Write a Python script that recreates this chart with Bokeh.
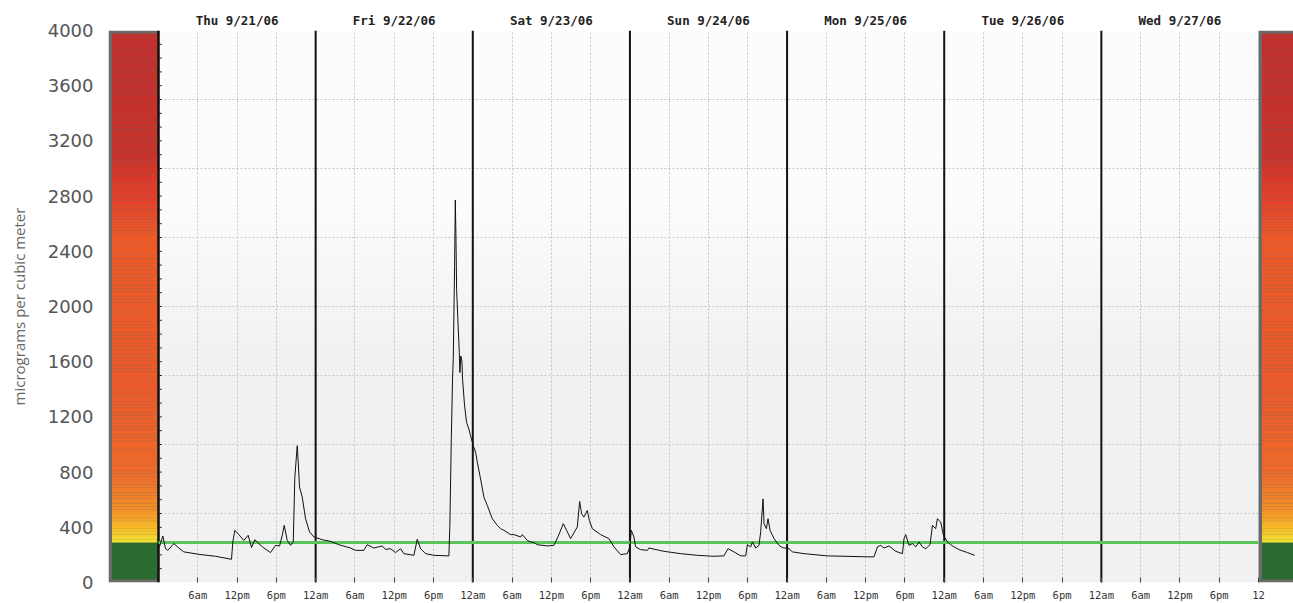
from bokeh.plotting import figure
from bokeh.models import Range1d, FixedTicker, LinearAxis
from bokeh.embed import file_html
from bokeh.resources import INLINE

# ---------------- data ----------------
# hours since Thu 9/21/06 12am
HOURS = [
    0.15, 0.66, 1.07, 1.42, 2.34, 3.10, 3.87, 6.16, 8.71, 11.15, 11.35, 11.66,
    12.27, 13.03, 13.70, 14.21, 14.71, 15.32, 16.09, 17.11, 17.87, 18.49, 18.90,
    19.20, 19.66, 20.17, 20.58, 20.82, 21.19, 21.34, 21.54, 21.95, 22.46, 23.07,
    23.73, 25.01, 26.28, 27.54, 29.33, 30.10, 31.36, 31.88, 32.89, 34.17, 34.68,
    35.44, 36.21, 36.97, 37.47, 39.00, 39.52, 40.03, 40.79, 42.06, 44.35, 44.50,
    44.72, 44.92, 45.02, 45.22, 45.33, 45.42, 45.53, 45.72, 45.94, 46.03, 46.18,
    46.34, 46.44, 46.75, 47.05, 47.40, 47.66, 48.08, 48.43, 48.69, 49.19, 49.70,
    50.22, 50.98, 51.74, 52.25, 52.76, 53.78, 54.28, 55.30, 55.56, 56.33, 56.83,
    57.34, 57.85, 59.38, 60.39, 61.00, 61.83, 62.33, 62.94, 63.96, 64.32, 64.62,
    64.97, 65.49, 65.80, 66.26, 67.52, 68.79, 69.56, 70.58, 71.60, 72.00, 72.21,
    72.61, 72.87, 73.63, 74.66, 74.90, 77.19, 79.75, 82.30, 84.83, 86.36, 86.97,
    87.89, 88.92, 89.68, 89.94, 90.45, 90.71, 91.21, 91.71, 91.97, 92.33, 92.48,
    92.84, 93.09, 93.40, 94.01, 94.77, 95.29, 96.29, 96.81, 98.58, 102.16,
    108.27, 109.28, 109.80, 110.30, 110.81, 111.57, 112.59, 113.62, 113.86,
    114.12, 114.62, 115.14, 115.65, 116.15, 116.67, 117.18, 117.83, 118.20,
    118.70, 118.96, 119.47, 119.88, 120.49, 120.99, 121.50, 122.27, 123.55,
    124.66,
]
# micrograms per cubic meter
CONC = [
    258, 337, 245, 233, 282, 250, 222, 204, 190, 168, 294, 378,
    347, 305, 342, 253, 310, 282, 250, 217, 269, 265, 342,
    414, 305, 269, 294, 763, 991, 871, 691, 619, 462, 366,
    330, 310, 298, 274, 250, 233, 233, 274, 250, 265, 240,
    245, 217, 245, 209, 197, 313, 245, 209, 197, 193, 414,
    1040, 1497, 1617, 2291, 2772, 2532, 2123, 1906, 1666, 1521, 1641,
    1605, 1473, 1280, 1160, 1112, 1064, 991, 944, 871, 751, 619,
    558, 462, 414, 390, 378, 347, 347, 330, 347, 305, 294,
    289, 274, 265, 269, 330, 426, 378, 318, 402, 587, 498,
    474, 522, 450, 390, 347, 318, 258, 202, 209, 258, 378,
    330, 258, 238, 233, 250, 226, 209, 197, 190, 193, 245,
    222, 193, 193, 274, 258, 294, 250, 269, 366, 606, 426,
    390, 462, 378, 318, 269, 253, 245, 222, 209, 193,
    186, 186, 258, 269, 250, 265, 226, 209, 318,
    347, 269, 282, 258, 294, 258, 245, 274, 414,
    390, 462, 438, 342, 294, 274, 258, 238, 217,
    197,
]
GOOD_LIMIT = 290

DAY_LABELS = ["Thu 9/21/06", "Fri 9/22/06", "Sat 9/23/06", "Sun 9/24/06",
              "Mon 9/25/06", "Tue 9/26/06", "Wed 9/27/06"]
HOUR_LABELS = ["6am", "12pm", "6pm", "12am"]
LAST_LABEL = "12"
Y_TICKS = list(range(0, 4001, 400))
Y_GRID = list(range(500, 4001, 500))
Y_MINOR = list(range(100, 4000, 100))
N_DAYS = 7

# color ramp of the side scale bars (value, color)
RAMP = [(GOOD_LIMIT, "#f0e232"), (380, "#f6c02a"), (520, "#f29028"),
        (800, "#ee6a2a"), (1400, "#ea5a2a"), (2500, "#ec5a28"),
        (2800, "#e2402a"), (3100, "#c8322c"), (4000, "#c0302c")]

# ---------------- geometry ----------------
W, H = 1293, 603
FRAME_LEFT, FRAME_TOP, FRAME_BOTTOM = 108, 30, 19
PX_PER_HOUR = (1258.0 - 158.0) / 168.0
X_START = -50.0 / PX_PER_HOUR
X_END = X_START + (W - FRAME_LEFT) / PX_PER_HOUR
Y_MAX = 4000
FRAME_H = H - FRAME_TOP - FRAME_BOTTOM
BH = 3.5 / PX_PER_HOUR            # bar border, horizontal (hours)
BV = 3.0 * Y_MAX / FRAME_H        # bar border, vertical (value units)
TOTAL_H = 24 * N_DAYS

p = figure(width=W, height=H, x_range=Range1d(X_START, X_END),
           y_range=Range1d(0, Y_MAX), output_backend="svg",
           toolbar_location=None, min_border_left=FRAME_LEFT, min_border_right=0,
           min_border_top=FRAME_TOP, min_border_bottom=FRAME_BOTTOM)
p.outline_line_color = None
p.background_fill_color = "#ffffff"
p.border_fill_color = "#ffffff"


def hex2rgb(h):
    return tuple(int(h[i:i + 2], 16) for i in (1, 3, 5))


def mix(c1, c2, t):
    a, b = hex2rgb(c1), hex2rgb(c2)
    return "#%02x%02x%02x" % tuple(int(round(a[i] + (b[i] - a[i]) * t)) for i in range(3))


# background shading (lower part light grey)
bg_b, bg_t, bg_c = [], [], []
for i in range(40):
    lo = i * 100.0
    hi = lo + 100.0
    mid = lo + 50
    if mid < 1700:
        c = "#f1f1f1"
    elif mid < 2700:
        c = mix("#f1f1f1", "#fcfcfc", (mid - 1700) / 1000.0)
    else:
        c = "#fcfcfc"
    bg_b.append(lo)
    bg_t.append(hi)
    bg_c.append(c)
bg = p.quad(left=0, right=TOTAL_H, bottom=bg_b, top=bg_t, fill_color=bg_c,
            line_color=None)
bg.level = "image"

# ---------------- axes ----------------
p.xaxis.ticker = FixedTicker(ticks=list(range(6, TOTAL_H + 1, 6)))
overrides = {}
for h in range(6, TOTAL_H + 1, 6):
    overrides[h] = HOUR_LABELS[(h // 6 - 1) % 4]
overrides[TOTAL_H] = LAST_LABEL
p.xaxis.major_label_overrides = overrides
p.xaxis.axis_line_color = None
p.xaxis.major_tick_in = 5
p.xaxis.major_tick_out = 0
p.xaxis.major_tick_line_color = "#444444"
p.xaxis.minor_tick_line_color = None
p.xaxis.major_label_standoff = 6
p.xaxis.major_label_text_font = "DejaVu Sans Mono"
p.xaxis.major_label_text_font_size = "10.5px"
p.xaxis.major_label_text_color = "#333333"

top = LinearAxis(ticker=FixedTicker(ticks=[12 + 24 * i for i in range(N_DAYS)]),
                 major_label_overrides={12 + 24 * i: DAY_LABELS[i] for i in range(N_DAYS)})
top.axis_line_color = None
top.major_tick_in = 0
top.major_tick_out = 0
top.minor_tick_line_color = None
top.major_label_standoff = 3
top.major_label_text_font = "DejaVu Sans Mono"
top.major_label_text_font_style = "bold"
top.major_label_text_font_size = "12.5px"
top.major_label_text_color = "#222222"
p.add_layout(top, "above")

p.yaxis.ticker = FixedTicker(ticks=Y_TICKS)
p.yaxis.axis_line_color = None
p.yaxis.major_tick_in = 0
p.yaxis.major_tick_out = 0
p.yaxis.minor_tick_line_color = None
p.yaxis.major_label_standoff = 15
p.yaxis.major_label_text_font = "DejaVu Sans"
p.yaxis.major_label_text_font_size = "18px"
p.yaxis.major_label_text_color = "#555555"
p.yaxis.axis_label = "micrograms per cubic meter"
p.yaxis.axis_label_text_font = "Open Sans"
p.yaxis.axis_label_text_font_style = "normal"
p.yaxis.axis_label_text_font_size = "15px"
p.yaxis.axis_label_text_color = "#666666"
p.yaxis.axis_label_standoff = 16

# grid
p.xgrid.ticker = FixedTicker(ticks=list(range(6, TOTAL_H, 6)))
p.ygrid.ticker = FixedTicker(ticks=Y_GRID)
for g in (p.xgrid, p.ygrid):
    g.grid_line_color = "#c4c4c4"
    g.grid_line_dash = "2 2"
    g.grid_line_width = 1

# ---------------- side scale bars ----------------
seg_b, seg_t, seg_c = [], [], []
step = 20.0
v = float(GOOD_LIMIT)
while v < Y_MAX - BV:
    hi = min(v + step, Y_MAX - BV)
    mid = (v + hi) / 2
    col = RAMP[-1][1]
    for (v0, c0), (v1, c1) in zip(RAMP[:-1], RAMP[1:]):
        if v0 <= mid <= v1:
            col = mix(c0, c1, (mid - v0) / (v1 - v0))
            break
    seg_b.append(v)
    seg_t.append(hi + 0.5)
    seg_c.append(col)
    v = hi

for left_out, right_out, left_in, right_in in [
        (X_START, 0, X_START + BH, 0),
        (TOTAL_H, X_END + 1, TOTAL_H + BH, X_END + 1)]:
    p.quad(left=left_out, right=right_out, bottom=0, top=Y_MAX,
           fill_color="#6a6a6a", line_color=None)
    p.quad(left=left_in, right=right_in, bottom=BV, top=GOOD_LIMIT,
           fill_color="#2d6a31", line_color=None)
    p.quad(left=left_in, right=right_in, bottom=seg_b, top=seg_t,
           fill_color=seg_c, line_color=None)

# left axis line with minor ticks
p.segment(x0=0, y0=0, x1=0, y1=Y_MAX, line_color="#111111", line_width=2.5)
p.segment(x0=0, y0=Y_MINOR, x1=0.5, y1=Y_MINOR, line_color="#222222", line_width=1)

# day separators
days = [24 * i for i in range(1, N_DAYS)]
p.segment(x0=days, y0=0, x1=days, y1=Y_MAX, line_color="#111111", line_width=2)

# good-air threshold line
p.line([0, TOTAL_H], [GOOD_LIMIT, GOOD_LIMIT], line_color="#5cc45c", line_width=3)

# measurements
p.line(HOURS, CONC, line_color="#111111", line_width=1)

open("out.html", "w").write(file_html(p, INLINE))
